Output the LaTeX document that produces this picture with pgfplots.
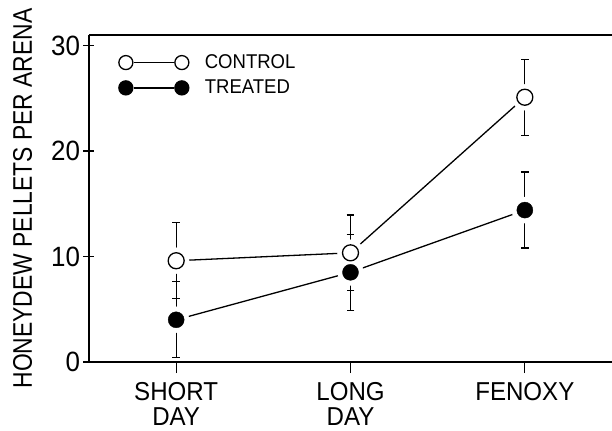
\documentclass[border=0pt]{standalone}
\usepackage{fontspec}
\setmainfont{Liberation Sans}[FakeStretch=0.93]
\newfontfamily\labfont{Liberation Sans}[FakeStretch=0.85]
\usepackage{pgfplots}
\pgfplotsset{compat=1.18}
\begin{document}
\begin{tikzpicture}
\begin{axis}[
  name=ax, scale only axis, width=523bp, height=327bp,
  xmin=-0.5, xmax=2.5, ymin=0, ymax=31,
  axis x line=box, axis y line=left, axis line style={-, line width=1.3bp, black},
  xtick={0,1,2}, xticklabels={SHORT\\DAY, LONG\\DAY, FENOXY},
  xticklabel style={align=center, font=\fontsize{26}{25}\selectfont, yshift=-6bp},
  ytick={0,10,20,30},
  yticklabel style={font=\fontsize{28}{30}\selectfont},
  /pgf/number format/assume math mode=true,
  xtick align=outside, ytick align=center, xtick pos=left, ytick pos=left,
  major tick length=11bp, tick style={line width=1.3bp, black},
  ylabel={\labfont HONEYDEW PELLETS PER ARENA},
  ylabel style={font=\fontsize{27}{28}\selectfont, at={(axis description cs:-0.127,0.5)}, anchor=center},
  legend style={at={(axis description cs:0.051,0.952)}, anchor=north west, draw=none, fill=none,
    font=\fontsize{20}{22}\selectfont, row sep=6bp, cells={anchor=west}},
  clip=false
]
% lines and error bars
\addplot[black, line width=1.3bp, mark=none, forget plot,
  error bars/.cd, y dir=both, y explicit, error mark=-,
  error bar style={line width=1.3bp},
  error mark options={rotate=90, mark size=3.8bp, line width=1.3bp}]
  coordinates {(0,9.6) +- (0,3.6) (1,10.35) +- (0,3.6) (2,25.1) +- (0,3.6)};
\addplot[black, line width=1.3bp, mark=none, forget plot,
  error bars/.cd, y dir=both, y explicit, error mark=-,
  error bar style={line width=1.3bp},
  error mark options={rotate=90, mark size=3.8bp, line width=1.3bp}]
  coordinates {(0,4.0) +- (0,3.6) (1,8.5) +- (0,3.6) (2,14.4) +- (0,3.6)};
% white halos
\addplot[only marks, mark=*, mark size=13bp, white, forget plot]
  coordinates {(0,9.6) (1,10.35) (2,25.1)};
\addplot[only marks, mark=*, mark size=13bp, white, forget plot]
  coordinates {(0,4.0) (1,8.5) (2,14.4)};
% markers
\addplot[only marks, mark=*, mark size=8bp, black, mark options={fill=white, line width=1.3bp},
  legend image code/.code={
    \draw[black, line width=1.3bp] (8bp,0bp) -- (48bp,0bp);
    \draw[black, line width=1.3bp] plot[only marks, mark=*, mark size=7bp, mark options={fill=white}] coordinates {(0bp,0bp) (56bp,0bp)};
  }]
  coordinates {(0,9.6) (1,10.35) (2,25.1)};
\addlegendentry{\hspace{14bp}CONTROL}
\addplot[only marks, mark=*, mark size=8bp, black,
  legend image code/.code={
    \draw[black, line width=1.3bp] (8bp,0bp) -- (48bp,0bp);
    \draw[black, line width=1.3bp] plot[only marks, mark=*, mark size=7bp, mark options={fill=black}] coordinates {(0bp,0bp) (56bp,0bp)};
  }]
  coordinates {(0,4.0) (1,8.5) (2,14.4)};
\addlegendentry{\hspace{14bp}TREATED}
\end{axis}
\pgfresetboundingbox
\path[use as bounding box] ([shift={(-89bp,-69bp)}]ax.south west) rectangle ([shift={(0bp,35bp)}]ax.north east);
\end{tikzpicture}
\end{document}
